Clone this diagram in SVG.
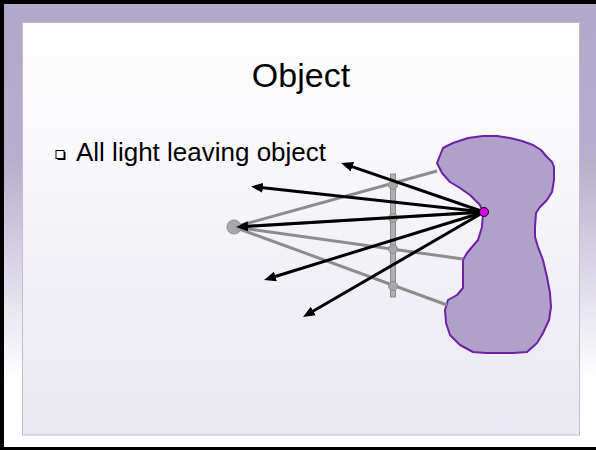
<svg xmlns="http://www.w3.org/2000/svg" width="596" height="450" viewBox="0 0 596 450">
<defs>
<linearGradient id="frameGrad" x1="0" y1="0" x2="0" y2="1">
<stop offset="0" stop-color="#B1A9C9"/>
<stop offset="0.35" stop-color="#B6AECD"/>
<stop offset="0.85" stop-color="#FFFFFF"/>
</linearGradient>
<linearGradient id="panelGrad" x1="0" y1="0" x2="0" y2="1">
<stop offset="0" stop-color="#FFFFFF"/>
<stop offset="1" stop-color="#E9E7F1"/>
</linearGradient>
<marker id="ah" viewBox="0 0 12 10" refX="2" refY="5" markerWidth="12" markerHeight="10" markerUnits="userSpaceOnUse" orient="auto">
<path d="M0,0 L12,5 L0,10 Z" fill="#000"/>
</marker>
<style>
.ray{stroke:#8C8C8C;stroke-width:3;fill:none}
.arrow{stroke:#000;stroke-width:3;fill:none;marker-end:url(#ah)}
.gdot{fill:#A8A8A8;stroke:#8C8C8C;stroke-width:1}
.txt{font-family:"Liberation Sans",Arial,sans-serif;fill:#000}
</style>
</defs>

<g id="frame">
<rect x="0" y="0" width="596" height="450" fill="#000"/>
<rect x="4" y="4" width="592" height="443" fill="url(#frameGrad)"/>
<rect x="22.5" y="22.5" width="557" height="412.5" fill="url(#panelGrad)" stroke="#C2BAD6" stroke-width="1"/>
</g>

<g id="title">
<text class="txt" x="301" y="87" font-size="34" text-anchor="middle">Object</text>
</g>

<g id="bullet">
<rect x="57.5" y="152" width="8" height="8" fill="#000"/>
<rect x="56" y="150.5" width="8" height="8" fill="#FFF" stroke="#000" stroke-width="1"/>
<text class="txt" x="76" y="161" font-size="26">All light leaving object</text>
</g>

<g id="object">
<path d="M437,163 L443,148 L453,143 L468,138 L483,136 L497,136 L510,138 L522,141 L533,145 L541,150 L547,157 L552,162 L554,167 L554,180 L552,192 L547,200 L540,207 L536,213 L535,227 L535,237 L538,247 L543,260 L547,277 L550,293 L551,307 L549,320 L543,333 L537,343 L527,352 L513,353 L500,353 L486,353 L473,352 L460,345 L450,335 L446,323 L445,310 L448,300 L457,295 L463,288 L463,277 L463,260 L467,253 L472,247 L478,240 L482,227 L483,213 L480,205 L470,195 L460,188 L450,182 L442,173 Z" fill="#B1A1C8" stroke="#7020A8" stroke-width="2" stroke-linejoin="round"/>
</g>

<g id="connectors">
<line class="ray" x1="234" y1="227" x2="437" y2="171"/>
<line class="ray" x1="234" y1="227" x2="463" y2="259"/>
<line class="ray" x1="234" y1="227" x2="447" y2="305"/>
<line class="ray" x1="234" y1="227" x2="484" y2="212"/>
</g>

<g id="eye">
<circle class="gdot" cx="234" cy="227" r="7"/>
</g>

<g id="plane">
<rect x="390.5" y="174" width="5" height="123" fill="#B0B0B0" stroke="#8C8C8C" stroke-width="1"/>
<circle class="gdot" cx="393" cy="185" r="4.5"/>
<circle class="gdot" cx="393" cy="218" r="4.5"/>
<circle class="gdot" cx="393" cy="249" r="4.5"/>
<circle class="gdot" cx="393" cy="286" r="4.5"/>
</g>

<g id="arrows">
<line class="arrow" x1="484" y1="212" x2="350.5" y2="166.2"/>
<line class="arrow" x1="484" y1="212" x2="260.9" y2="187.6"/>
<line class="arrow" x1="484" y1="212" x2="246" y2="226.4"/>
<line class="arrow" x1="484" y1="212" x2="273.6" y2="277"/>
<line class="arrow" x1="484" y1="212" x2="311.6" y2="312"/>
</g>

<g id="point">
<circle cx="484" cy="212" r="4.5" fill="#E000E8" stroke="#000" stroke-width="1"/>
</g>
</svg>
